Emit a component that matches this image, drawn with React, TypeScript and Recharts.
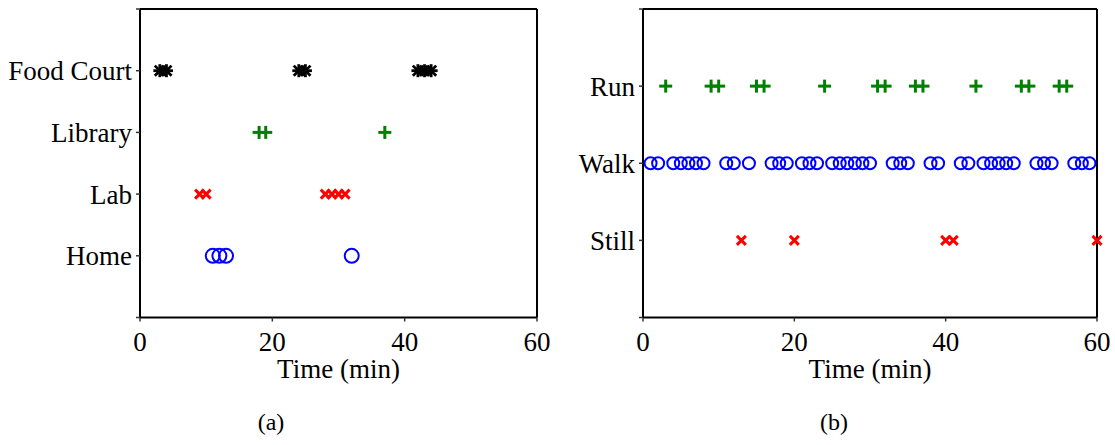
import React from 'react';
import { ScatterChart, Scatter, XAxis, YAxis, Label } from 'recharts';

// Panel (a): location visits over one hour
const placeLabels = ['', 'Home', 'Lab', 'Library', 'Food Court', ''];
const homeTimes = [11, 12, 13, 32];
const labTimes = [9, 10, 28, 29, 30, 31];
const libraryTimes = [18, 19, 37];
const foodCourtTimes = [3, 4, 24, 25, 42, 43, 44];

// Panel (b): detected activity over one hour
const activityLabels = ['', 'Still', 'Walk', 'Run', ''];
const stillTimes = [13, 20, 40, 41, 60];
const walkTimes = [
  1, 2, 4, 5, 6, 7, 8, 11, 12, 14, 17, 18, 19, 21, 22, 23, 25, 26, 27, 28, 29, 30,
  33, 34, 35, 38, 39, 42, 43, 45, 46, 47, 48, 49, 52, 53, 54, 57, 58, 59,
];
const runTimes = [3, 9, 10, 15, 16, 24, 31, 32, 36, 37, 44, 50, 51, 55, 56];

const timeTicks = [0, 20, 40, 60];

const SERIF = "'Liberation Serif', 'Times New Roman', serif";
const GREEN = '#008000';
const RED = '#ff0000';
const BLUE = '#0000ff';

const toPoints = (times: number[], level: number) => times.map((t) => ({ t, level }));

type MarkerProps = { cx?: number; cy?: number };

const makeCircle = (r: number) => (p: MarkerProps) => (
  <circle cx={p.cx} cy={p.cy} r={r} fill="none" stroke={BLUE} strokeWidth={2} />
);

const makePlus = (h: number) => (p: MarkerProps) => {
  const { cx = 0, cy = 0 } = p;
  return (
    <g stroke={GREEN} strokeWidth={3}>
      <line x1={cx - h} y1={cy} x2={cx + h} y2={cy} />
      <line x1={cx} y1={cy - h} x2={cx} y2={cy + h} />
    </g>
  );
};

const makeCross = (h: number) => (p: MarkerProps) => {
  const { cx = 0, cy = 0 } = p;
  return (
    <g stroke={RED} strokeWidth={3}>
      <line x1={cx - h} y1={cy - h} x2={cx + h} y2={cy + h} />
      <line x1={cx - h} y1={cy + h} x2={cx + h} y2={cy - h} />
    </g>
  );
};

const makeAsterisk = (h: number) => (p: MarkerProps) => {
  const { cx = 0, cy = 0 } = p;
  const d = h * 0.78;
  return (
    <g stroke="#000" strokeWidth={2.8}>
      <line x1={cx - h} y1={cy} x2={cx + h} y2={cy} />
      <line x1={cx} y1={cy - h} x2={cx} y2={cy + h} />
      <line x1={cx - d} y1={cy - d} x2={cx + d} y2={cy + d} />
      <line x1={cx - d} y1={cy + d} x2={cx + d} y2={cy - d} />
    </g>
  );
};

type SeriesDef = { name: string; data: { t: number; level: number }[]; shape: (p: MarkerProps) => React.ReactElement };

type PanelProps = {
  width: number;
  yWidth: number;
  right: number;
  labels: string[];
  series: SeriesDef[];
};

const tickFont = { fontSize: 27, fontFamily: SERIF, fill: '#000' };
const frameLine = { stroke: '#000', strokeWidth: 2 };
const tickMark = { stroke: '#333', strokeWidth: 1.5 };

function Panel({ width, yWidth, right, labels, series }: PanelProps) {
  const yTicks = labels.map((_, i) => i);
  const yMax = labels.length - 1;
  return (
    <ScatterChart
      width={width}
      height={445}
      margin={{ top: 8, right: right - 1, bottom: 97.5, left: 0 }}
      style={{ outline: 'none' }}
    >
      <XAxis
        xAxisId="bottom"
        type="number"
        dataKey="t"
        domain={[0, 60]}
        ticks={timeTicks}
        height={30}
        axisLine={frameLine}
        tickLine={tickMark}
        tickSize={4}
        tickMargin={10}
        tick={tickFont}
      >
        <Label value="Time (min)" position="bottom" offset={11} fontSize={27} fontFamily={SERIF} fill="#000" />
      </XAxis>
      <XAxis
        xAxisId="top"
        orientation="top"
        type="number"
        domain={[0, 60]}
        ticks={timeTicks}
        height={1}
        axisLine={frameLine}
        tickLine={tickMark}
        tickSize={4}
        tickFormatter={() => ''}
      />
      <YAxis
        yAxisId="left"
        type="number"
        dataKey="level"
        domain={[0, yMax]}
        ticks={yTicks}
        width={yWidth}
        axisLine={frameLine}
        tickLine={tickMark}
        tickSize={4}
        tickMargin={4}
        tick={tickFont}
        tickFormatter={(v: number) => labels[v] ?? ''}
      />
      <YAxis
        yAxisId="right"
        orientation="right"
        type="number"
        domain={[0, yMax]}
        ticks={yTicks}
        width={1}
        axisLine={frameLine}
        tickLine={tickMark}
        tickSize={4}
        tickFormatter={() => ''}
      />
      {series.map((s) => (
        <Scatter
          key={s.name}
          name={s.name}
          xAxisId="bottom"
          yAxisId="left"
          data={s.data}
          shape={s.shape}
          isAnimationActive={false}
        />
      ))}
    </ScatterChart>
  );
}

const placeSeries: SeriesDef[] = [
  { name: 'Home', data: toPoints(homeTimes, 1), shape: makeCircle(7) },
  { name: 'Lab', data: toPoints(labTimes, 2), shape: makeCross(4.5) },
  { name: 'Library', data: toPoints(libraryTimes, 3), shape: makePlus(6.5) },
  { name: 'Food Court', data: toPoints(foodCourtTimes, 4), shape: makeAsterisk(6.5) },
];

const activitySeries: SeriesDef[] = [
  { name: 'Still', data: toPoints(stillTimes, 1), shape: makeCross(4.5) },
  { name: 'Walk', data: toPoints(walkTimes, 2), shape: makeCircle(6) },
  { name: 'Run', data: toPoints(runTimes, 3), shape: makePlus(6.5) },
];

const captionStyle: React.CSSProperties = {
  position: 'absolute',
  top: 422,
  transform: 'translate(-50%, -50%)',
  fontFamily: SERIF,
  fontSize: 24,
  lineHeight: 1,
  color: '#000',
};

export default function App() {
  return (
    <div style={{ position: 'absolute', left: 0, top: 0, width: 1115, height: 445, background: '#fff' }}>
      <div style={{ position: 'absolute', left: 0, top: 0 }}>
        <Panel width={560} yWidth={140} right={23} labels={placeLabels} series={placeSeries} />
      </div>
      <div style={{ position: 'absolute', left: 560, top: 0 }}>
        <Panel width={555} yWidth={83} right={18} labels={activityLabels} series={activitySeries} />
      </div>
      <div style={{ ...captionStyle, left: 271 }}>(a)</div>
      <div style={{ ...captionStyle, left: 834 }}>(b)</div>
    </div>
  );
}
